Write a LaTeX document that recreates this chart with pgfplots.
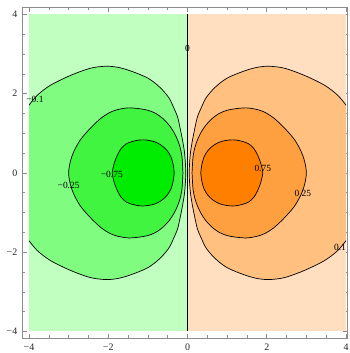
\documentclass[border=0pt]{standalone}
\usepackage{pgfplots}
\pgfplotsset{compat=1.18}
\usepackage{fontspec}
\setmainfont{Liberation Serif}
\definecolor{gA}{RGB}{192,255,192}
\definecolor{gB}{RGB}{128,252,128}
\definecolor{gC}{RGB}{64,244,64}
\definecolor{gD}{RGB}{0,236,0}
\definecolor{pA}{RGB}{255,223,192}
\definecolor{pB}{RGB}{255,192,128}
\definecolor{pC}{RGB}{255,160,64}
\definecolor{pD}{RGB}{255,128,0}
\begin{document}
\begin{tikzpicture}
\useasboundingbox (0,0) rectangle (350bp,353bp);
\begin{axis}[
 at={(22.3bp,15bp)}, anchor=south west,
 scale only axis, width=325.4bp, height=330.7bp,
 xmin=-4.169, xmax=4.043, ymin=-4.164, ymax=4.177,
 axis line style={black!45, line width=0.6bp},
 tick align=inside,
 tick style={black!45, line width=0.5bp},
 major tick length=4.3bp, minor tick length=2.5bp,
 xtick={-4,-2,0,2,4}, ytick={-4,-2,0,2,4},
 xticklabels={−4,−2,0,2,4}, yticklabels={−4,−2,0,2,4},
 minor tick num=3,
 ticklabel style={font=\fontsize{10}{12}\selectfont, text=black!85},
 xticklabel style={yshift=-2bp},
 yticklabel style={xshift=-1.5bp},
 clip=true,
]
% background halves
\addplot[draw=none, fill=gA] coordinates {(-4,-4) (0,-4) (0,4) (-4,4)};
\addplot[draw=none, fill=pA] coordinates {(0,-4) (4,-4) (4,4) (0,4)};
% right 0.1 region
\addplot[draw=none, fill=pB, smooth] coordinates {(4.0,1.71) (3.79,1.96) (3.46,2.21) (2.95,2.46) (2.45,2.64) (2.07,2.69) (1.8,2.67) (1.55,2.61) (1.22,2.49) (1.0,2.39) (0.80,2.25) (0.62,2.08) (0.46,1.88) (0.35,1.65) (0.25,1.41) (0.18,1.1) (0.126,0.83) (0.08,0.55) (0.058,0.32) (0.048,0.15) (0.045,0) (0.048,-0.15) (0.058,-0.32) (0.08,-0.55) (0.126,-0.83) (0.18,-1.1) (0.25,-1.41) (0.35,-1.65) (0.46,-1.88) (0.62,-2.08) (0.80,-2.25) (1.0,-2.39) (1.22,-2.49) (1.55,-2.61) (1.8,-2.67) (2.07,-2.69) (2.45,-2.64) (2.95,-2.46) (3.46,-2.21) (3.79,-1.96) (4.0,-1.71)};
% left -0.1 region
\addplot[draw=none, fill=gB, smooth] coordinates {(-4.0,1.71) (-3.79,1.96) (-3.46,2.21) (-2.95,2.46) (-2.45,2.64) (-2.07,2.69) (-1.8,2.67) (-1.55,2.61) (-1.22,2.49) (-1.0,2.39) (-0.80,2.25) (-0.62,2.08) (-0.46,1.88) (-0.35,1.65) (-0.25,1.41) (-0.18,1.1) (-0.126,0.83) (-0.08,0.55) (-0.058,0.32) (-0.048,0.15) (-0.045,0) (-0.048,-0.15) (-0.058,-0.32) (-0.08,-0.55) (-0.126,-0.83) (-0.18,-1.1) (-0.25,-1.41) (-0.35,-1.65) (-0.46,-1.88) (-0.62,-2.08) (-0.80,-2.25) (-1.0,-2.39) (-1.22,-2.49) (-1.55,-2.61) (-1.8,-2.67) (-2.07,-2.69) (-2.45,-2.64) (-2.95,-2.46) (-3.46,-2.21) (-3.79,-1.96) (-4.0,-1.71)};
% right 0.25
\addplot[draw=black, line width=0.7bp, fill=pC, smooth] coordinates {(0.115,0) (0.125,0.2) (0.14,0.41) (0.18,0.62) (0.25,0.83) (0.34,1.02) (0.46,1.20) (0.62,1.37) (0.80,1.50) (1.0,1.58) (1.22,1.62) (1.49,1.64) (1.75,1.60) (1.95,1.53) (2.17,1.39) (2.37,1.21) (2.55,1.02) (2.70,0.84) (2.84,0.60) (2.93,0.38) (2.98,0.18) (3.0,0) (2.98,-0.18) (2.93,-0.38) (2.84,-0.60) (2.70,-0.84) (2.55,-1.02) (2.37,-1.21) (2.17,-1.39) (1.95,-1.53) (1.75,-1.60) (1.49,-1.64) (1.22,-1.62) (1.0,-1.58) (0.80,-1.50) (0.62,-1.37) (0.46,-1.20) (0.34,-1.02) (0.25,-0.83) (0.18,-0.62) (0.14,-0.41) (0.125,-0.2) (0.115,0)};
% left -0.25
\addplot[draw=black, line width=0.7bp, fill=gC, smooth] coordinates {(-0.115,0) (-0.125,0.2) (-0.14,0.41) (-0.18,0.62) (-0.25,0.83) (-0.34,1.02) (-0.46,1.20) (-0.62,1.37) (-0.80,1.50) (-1.0,1.58) (-1.22,1.62) (-1.49,1.64) (-1.75,1.60) (-1.95,1.53) (-2.17,1.39) (-2.37,1.21) (-2.55,1.02) (-2.70,0.84) (-2.84,0.60) (-2.93,0.38) (-2.98,0.18) (-3.0,0) (-2.98,-0.18) (-2.93,-0.38) (-2.84,-0.60) (-2.70,-0.84) (-2.55,-1.02) (-2.37,-1.21) (-2.17,-1.39) (-1.95,-1.53) (-1.75,-1.60) (-1.49,-1.64) (-1.22,-1.62) (-1.0,-1.58) (-0.80,-1.50) (-0.62,-1.37) (-0.46,-1.20) (-0.34,-1.02) (-0.25,-0.83) (-0.18,-0.62) (-0.14,-0.41) (-0.125,-0.2) (-0.115,0)};
% right 0.75
\addplot[draw=black, line width=0.7bp, fill=pD, smooth] coordinates {(0.335,0) (0.36,0.2) (0.42,0.41) (0.52,0.57) (0.63,0.675) (0.75,0.75) (0.88,0.80) (1.05,0.83) (1.22,0.83) (1.40,0.79) (1.55,0.73) (1.67,0.62) (1.76,0.47) (1.84,0.27) (1.88,0.12) (1.90,0) (1.88,-0.12) (1.84,-0.27) (1.76,-0.47) (1.67,-0.62) (1.55,-0.73) (1.40,-0.79) (1.22,-0.83) (1.05,-0.83) (0.88,-0.80) (0.75,-0.75) (0.63,-0.675) (0.52,-0.57) (0.42,-0.41) (0.36,-0.2) (0.335,0)};
% left -0.75
\addplot[draw=black, line width=0.7bp, fill=gD, smooth] coordinates {(-0.335,0) (-0.36,0.2) (-0.42,0.41) (-0.52,0.57) (-0.63,0.675) (-0.75,0.75) (-0.88,0.80) (-1.05,0.83) (-1.22,0.83) (-1.40,0.79) (-1.55,0.73) (-1.67,0.62) (-1.76,0.47) (-1.84,0.27) (-1.88,0.12) (-1.90,0) (-1.88,-0.12) (-1.84,-0.27) (-1.76,-0.47) (-1.67,-0.62) (-1.55,-0.73) (-1.40,-0.79) (-1.22,-0.83) (-1.05,-0.83) (-0.88,-0.80) (-0.75,-0.75) (-0.63,-0.675) (-0.52,-0.57) (-0.42,-0.41) (-0.36,-0.2) (-0.335,0)};
% 0.1 / -0.1 contour lines
\addplot[draw=black, line width=0.7bp, smooth] coordinates {(4.0,1.71) (3.79,1.96) (3.46,2.21) (2.95,2.46) (2.45,2.64) (2.07,2.69) (1.8,2.67) (1.55,2.61) (1.22,2.49) (1.0,2.39) (0.80,2.25) (0.62,2.08) (0.46,1.88) (0.35,1.65) (0.25,1.41) (0.18,1.1) (0.126,0.83) (0.08,0.55) (0.058,0.32) (0.048,0.15) (0.045,0) (0.048,-0.15) (0.058,-0.32) (0.08,-0.55) (0.126,-0.83) (0.18,-1.1) (0.25,-1.41) (0.35,-1.65) (0.46,-1.88) (0.62,-2.08) (0.80,-2.25) (1.0,-2.39) (1.22,-2.49) (1.55,-2.61) (1.8,-2.67) (2.07,-2.69) (2.45,-2.64) (2.95,-2.46) (3.46,-2.21) (3.79,-1.96) (4.0,-1.71)};
\addplot[draw=black, line width=0.7bp, smooth] coordinates {(-4.0,1.71) (-3.79,1.96) (-3.46,2.21) (-2.95,2.46) (-2.45,2.64) (-2.07,2.69) (-1.8,2.67) (-1.55,2.61) (-1.22,2.49) (-1.0,2.39) (-0.80,2.25) (-0.62,2.08) (-0.46,1.88) (-0.35,1.65) (-0.25,1.41) (-0.18,1.1) (-0.126,0.83) (-0.08,0.55) (-0.058,0.32) (-0.048,0.15) (-0.045,0) (-0.048,-0.15) (-0.058,-0.32) (-0.08,-0.55) (-0.126,-0.83) (-0.18,-1.1) (-0.25,-1.41) (-0.35,-1.65) (-0.46,-1.88) (-0.62,-2.08) (-0.80,-2.25) (-1.0,-2.39) (-1.22,-2.49) (-1.55,-2.61) (-1.8,-2.67) (-2.07,-2.69) (-2.45,-2.64) (-2.95,-2.46) (-3.46,-2.21) (-3.79,-1.96) (-4.0,-1.71)};
% zero contour
\addplot[draw=black, line width=0.9bp] coordinates {(0,-4) (0,4)};
% contour labels
\tikzset{clab/.style={font=\fontsize{9.5}{11}\selectfont, inner sep=0pt}}
\node[clab] at (axis cs:0,3.14) {0};
\node[clab] at (axis cs:1.90,0.11) {0.75};
\node[clab] at (axis cs:2.91,-0.52) {0.25};
\node[clab] at (axis cs:3.85,-1.88) {0.1};
\node[clab] at (axis cs:-3.85,1.86) {−0.1};
\node[clab] at (axis cs:-3.0,-0.31) {−0.25};
\node[clab] at (axis cs:-1.91,-0.03) {−0.75};
\end{axis}
\end{tikzpicture}
\end{document}
